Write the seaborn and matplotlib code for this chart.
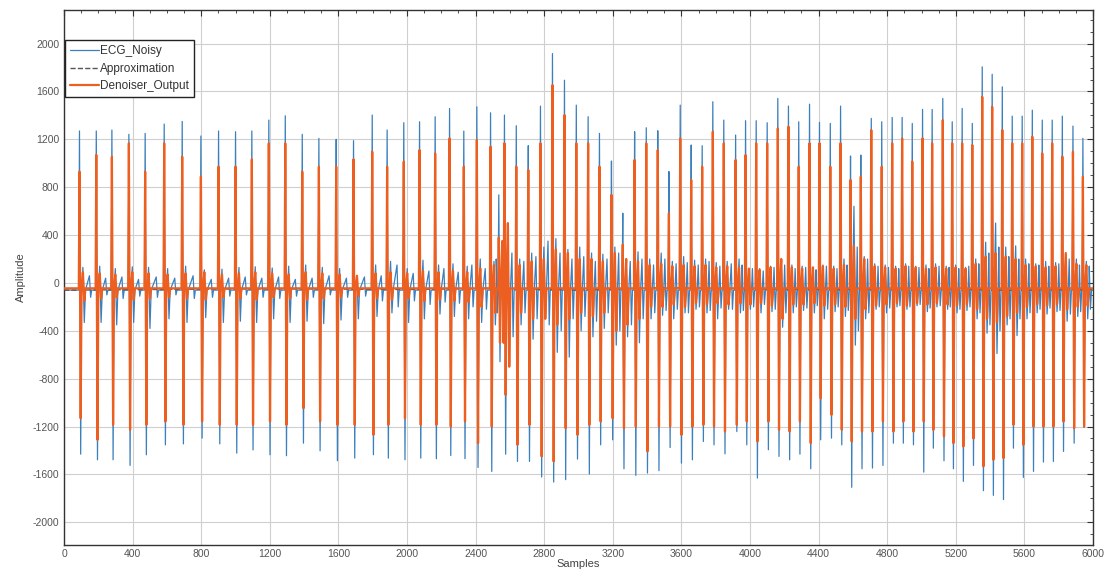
import numpy as np
import pandas as pd
import matplotlib
matplotlib.use("Agg")
import matplotlib.pyplot as plt
import seaborn as sns
from matplotlib.ticker import MultipleLocator

# beat positions (samples)
beat_pos = [93, 191, 282, 381, 476, 587, 692, 801, 904, 1003, 1098, 1197, 1293, 1392, 1489, 1590, 1691,
            1800, 1887, 1984, 2076, 2167, 2251, 2334, 2410, 2490, 2538, 2571, 2640, 2710, 2781, 2851,
            2921, 2990, 3059, 3125, 3195, 3261, 3330, 3398, 3465, 3530, 3596, 3660, 3724, 3786, 3850, 3919,
            3977, 4039, 4103, 4165, 4227, 4287, 4350, 4408, 4471, 4531, 4589, 4649, 4710, 4771, 4832,
            4890, 4949, 5009, 5065, 5127, 5182, 5240, 5299, 5357, 5415, 5474, 5532, 5590, 5649, 5707,
            5765, 5824, 5886, 5944]

# ECG_Noisy: R peak / S trough of each beat
noisy_peak = [1270, 1270, 1278, 1242, 1250, 1328, 1350, 1228, 1270, 1264, 1270, 1361, 1397, 1242, 1208, 1200, 1189,
              1403, 1278, 1339, 1347, 1389, 1458, 1269, 1472, 1422, 736, 1403, 1314, 1147, 1478, 1917,
              1694, 1486, 1389, 1250, 1019, 583, 1264, 1297, 1272, 931, 1486, 1153, 1147, 1514, 1361, 1236,
              1356, 1356, 1339, 1542, 1478, 1347, 1494, 1342, 1333, 1478, 1061, 1069, 1375, 1347, 1383,
              1383, 1333, 1450, 1450, 1542, 1347, 1458, 1333, 1806, 1744, 1639, 1394, 1394, 1444, 1361,
              1361, 1394, 1311, 1208]
noisy_trough = [-1431, -1478, -1478, -1525, -1436, -1353, -1345, -1297, -1345, -1422, -1395, -1436, -1444, -1339,
                -1403, -1486, -1464,
                -1436, -1464, -1478, -1464, -1469, -1442, -1469, -1542, -1575, -658, -1431, -1492, -1492,
                -1622, -1664, -1644, -1472, -1597, -1353, -1311, -1553, -1608, -1589, -1569, -1375, -1506,
                -1478, -1325, -1353, -1428, -1242,
                -1353, -1631, -1394, -1450, -1478, -1431, -1553, -1311, -1297, -1353, -1708, -1553, -1547,
                -1525, -1339, -1339, -1353, -1581, -1381, -1486, -1553, -1658, -1525, -1736, -1775, -1811,
                -1381, -1625, -1575, -1497, -1492, -1408, -1339, -1208]
# ECG_Noisy: smaller waves after each beat and noise between beats
noisy_after_hi = [130, 140, 120, 135, 130, 120, 140, 110, 115, 130, 135, 125, 140, 150, 130, 120, 60,
                  150, 180, 120, 190, 150, 160, 140, 200, 180, 250, 450, 200, 250, 300, 370, 280, 300, 250,
                  240, 300, 200, 260, 200, 250, 180, 220, 190, 200, 170, 180, 200,
                  100, 120, 140, 200, 150, 140, 130, 150, 140, 200, 640, 220, 160, 150, 140, 160, 140, 150,
                  160, 140, 150, 130, 200, 340, 500, 300, 310, 200, 160, 180, 170, 230, 200, 180]
noisy_after_lo = [-330, -330, -350, -330, -380, -300, -330, -290, -330, -320, -330, -300, -330, -320, -340, -310, -300,
                  -280, -250, -330, -300, -260, -280, -300, -330, -350, -500, -600, -350, -470, -300, -580,
                  -620, -400, -450, -380, -520, -450, -500, -300, -270, -300, -250, -220, -250, -300, -220, -250,
                  -220, -250, -240, -370, -250, -230, -250, -300, -240, -280, -520, -300, -220, -250, -200,
                  -220, -190, -240, -200, -220, -250, -230, -300, -420, -590, -350, -440, -300, -250, -260,
                  -240, -320, -280, -300]
noisy_mid_hi = [60, 40, 50, 30, 50, 40, 60, 30, 40, 50, 40, 50, 30, 40, 60, 40, 50,
                60, 150, 80, 100, 120, 90, 150, 120, 200, 300, 250, 180, 220, 350, 250, 200, 220, 180, 200,
                250, 180, 200, 150, 200, 160, 170, 150, 180, 140, 160, 150,
                120, 100, 130, 150, 120, 130, 110, 140, 120, 150, 300, 200, 140, 130, 120, 140, 130, 120,
                140, 130, 120, 140, 160, 250, 300, 220, 200, 160, 150, 140, 160, 200, 150, 140]
noisy_mid_lo = [-120, -100, -130, -110, -120, -100, -130, -120, -110, -100, -120, -130, -110, -120, -100, -120, -110,
                -150, -200, -150, -180, -160, -170, -200, -220, -250, -400, -450, -250, -300, -350, -400,
                -300, -280, -320, -250, -400, -350, -300, -250, -230, -220, -250, -200, -230, -210, -220, -230,
                -200, -180, -220, -250, -200, -210, -190, -220, -200, -230, -400, -250, -200, -210, -190,
                -200, -180, -210, -190, -200, -220, -200, -250, -350, -400, -300, -300, -250, -220, -210,
                -230, -260, -240, -220]

# Denoiser_Output
den_peak = [930, 1070, 1055, 1167, 930, 1167, 1055, 890, 972, 972, 1033, 1167, 1167, 930, 972, 972, 1033,
            1097, 972, 1014, 1111, 1083, 1208, 972, 1194, 1139, 380, 1167, 972, 944, 1167, 1653, 1403,
            1167, 1167, 972, 736, 320, 1028, 1167, 1111, 583, 1208, 861, 972, 1264, 1167, 1028,
            1069, 1167, 1167, 1292, 1306, 972, 1167, 1167, 972, 1167, 861, 889, 1278, 972, 1167, 1208,
            1014, 1208, 1167, 1361, 1167, 1167, 1153, 1556, 1472, 1278, 1167, 1167, 1222, 1083, 1167,
            1056, 1097, 889]
den_trough = [-1131, -1311, -1186, -1228, -1186, -1158, -1186, -1158, -1186, -1186, -1186, -1158, -1186, -1047,
              -1158, -1186, -1186,
              -1270, -1186, -1131, -1186, -1186, -1200, -1158, -1339, -1200, -500, -936, -1353, -1186,
              -1450, -1492, -1214, -1270, -1186, -1158, -1131, -1214, -1200, -1408, -1200, -1200, -1270,
              -1200, -1186, -1200, -1242, -1186,
              -1158, -1325, -1158, -1228, -1242, -1158, -1339, -964, -1103, -1228, -1325, -1242, -1242,
              -1158, -1242, -1158, -1242, -1158, -1228, -1283, -1339, -1367, -1300, -1533, -1478, -1464,
              -1186, -1353, -1200, -1200, -1200, -1158, -1214, -1200]
den_after_hi = [90, 80, 70, 90, 80, 70, 80, 90, 70, 80, 90, 80, 70, 90, 80, 70, 60,
                80, 90, 80, 100, 90, 100, 90, 120, 150, 350, 500, 150, 180, 200, 280, 250, 200, 200, 180,
                250, 200, 180, 150, 160, 140, 150, 140, 150, 130, 140, 130,
                120, 110, 130, 200, 130, 120, 130, 140, 120, 150, 310, 200, 140, 130, 120, 140, 130, 120,
                130, 120, 130, 120, 160, 220, 250, 220, 200, 150, 140, 130, 140, 250, 160, 150]
den_after_lo = [-150, -130, -120, -140, -130, -120, -130, -140, -120, -130, -140, -120, -130, -140, -130, -120, -110,
                -130, -140, -130, -150, -140, -150, -160, -200, -250, -500, -700, -250, -300, -300, -350,
                -300, -250, -280, -250, -400, -350, -300, -200, -200, -180, -200, -170, -180, -170, -180, -170,
                -180, -170, -190, -300, -180, -180, -170, -190, -180, -200, -300, -220, -190, -180, -170,
                -190, -170, -180, -170, -180, -190, -180, -220, -300, -330, -280, -250, -200, -180, -190,
                -180, -220, -200, -190]

noisy_base = -60
den_base = -45

# Approximation (low-frequency baseline)
approx_x = [0, 500, 1000, 1500, 2000, 2500, 3000, 3500, 4000, 4500, 5000, 5500, 6000]
approx_y = [-60, -55, -50, -50, -55, -45, -60, -40, -50, -55, -45, -60, -55]


def build_trace(base, peaks, troughs, after_hi, after_lo, mid_hi=None, mid_lo=None):
    xs, ys = [0], [base]
    for i, t in enumerate(beat_pos):
        nxt = beat_pos[i + 1] if i + 1 < len(beat_pos) else 6000
        xs += [t - 7, t - 3, t + 4, t + 9, t + 17, t + 25, t + 32]
        ys += [base, peaks[i], troughs[i], base, after_hi[i], after_lo[i], base]
        if mid_hi is not None:
            m = (t + nxt) / 2 + 10
            xs += [m - 4, m + 3, m + 9]
            ys += [mid_hi[i], mid_lo[i], base]
    xs.append(6000)
    ys.append(base)
    return pd.DataFrame({"Samples": xs, "Amplitude": ys})


noisy = build_trace(noisy_base, noisy_peak, noisy_trough, noisy_after_hi, noisy_after_lo,
                    noisy_mid_hi, noisy_mid_lo)
denoised = build_trace(den_base, den_peak, den_trough, den_after_hi, den_after_lo)
approx = pd.DataFrame({"Samples": approx_x, "Amplitude": approx_y})

sns.set_theme(style="whitegrid")
plt.rcParams["font.family"] = ["Liberation Sans", "DejaVu Sans"]
plt.rcParams["axes.unicode_minus"] = False

fig = plt.figure(figsize=(11.10, 5.69), dpi=100)
ax = fig.add_axes([0.0577, 0.0422, 0.927, 0.940])

sns.lineplot(data=noisy, x="Samples", y="Amplitude", ax=ax, estimator=None, sort=False,
             color="#3b80bd", lw=0.9, label="ECG_Noisy", zorder=2)
sns.lineplot(data=approx, x="Samples", y="Amplitude", ax=ax, estimator=None, sort=False,
             color="#555555", lw=1.0, linestyle="--", label="Approximation", zorder=3)
sns.lineplot(data=denoised, x="Samples", y="Amplitude", ax=ax, estimator=None, sort=False,
             color="#ec5f20", lw=1.6, label="Denoiser_Output", zorder=4)

ax.set_xlim(0, 6000)
ax.set_ylim(-2190, 2280)
ax.xaxis.set_major_locator(MultipleLocator(400))
ax.xaxis.set_minor_locator(MultipleLocator(100))
ax.yaxis.set_major_locator(MultipleLocator(400))
ax.yaxis.set_minor_locator(MultipleLocator(100))

ax.set_facecolor("white")
ax.grid(True, which="major", color="#cfcfcf", lw=0.8)
ax.grid(False, which="minor")
for s in ax.spines.values():
    s.set_color("#333333")
    s.set_linewidth(1.0)

ax.tick_params(which="both", direction="in", top=True, right=True, colors="#333333",
               labelcolor="#555555", labelsize=7.5)
ax.tick_params(which="major", length=4, width=0.8)
ax.tick_params(which="minor", length=2, width=0.6)
ax.tick_params(axis="x", pad=3)

ax.set_xlabel("Samples", fontsize=8, color="#444444", labelpad=0)
ax.set_ylabel("Amplitude", fontsize=8, color="#444444", labelpad=5)

leg = ax.legend(loc="upper left", bbox_to_anchor=(0.001, 0.944), borderaxespad=0, fontsize=8.5,
                frameon=True, fancybox=False, edgecolor="#222222", framealpha=1,
                handlelength=2.4, handletextpad=0.1, labelspacing=0.45, borderpad=0.45)
leg.get_frame().set_linewidth(1.0)
for txt in leg.get_texts():
    txt.set_color("#333333")

fig.savefig("out.png", dpi=100)
